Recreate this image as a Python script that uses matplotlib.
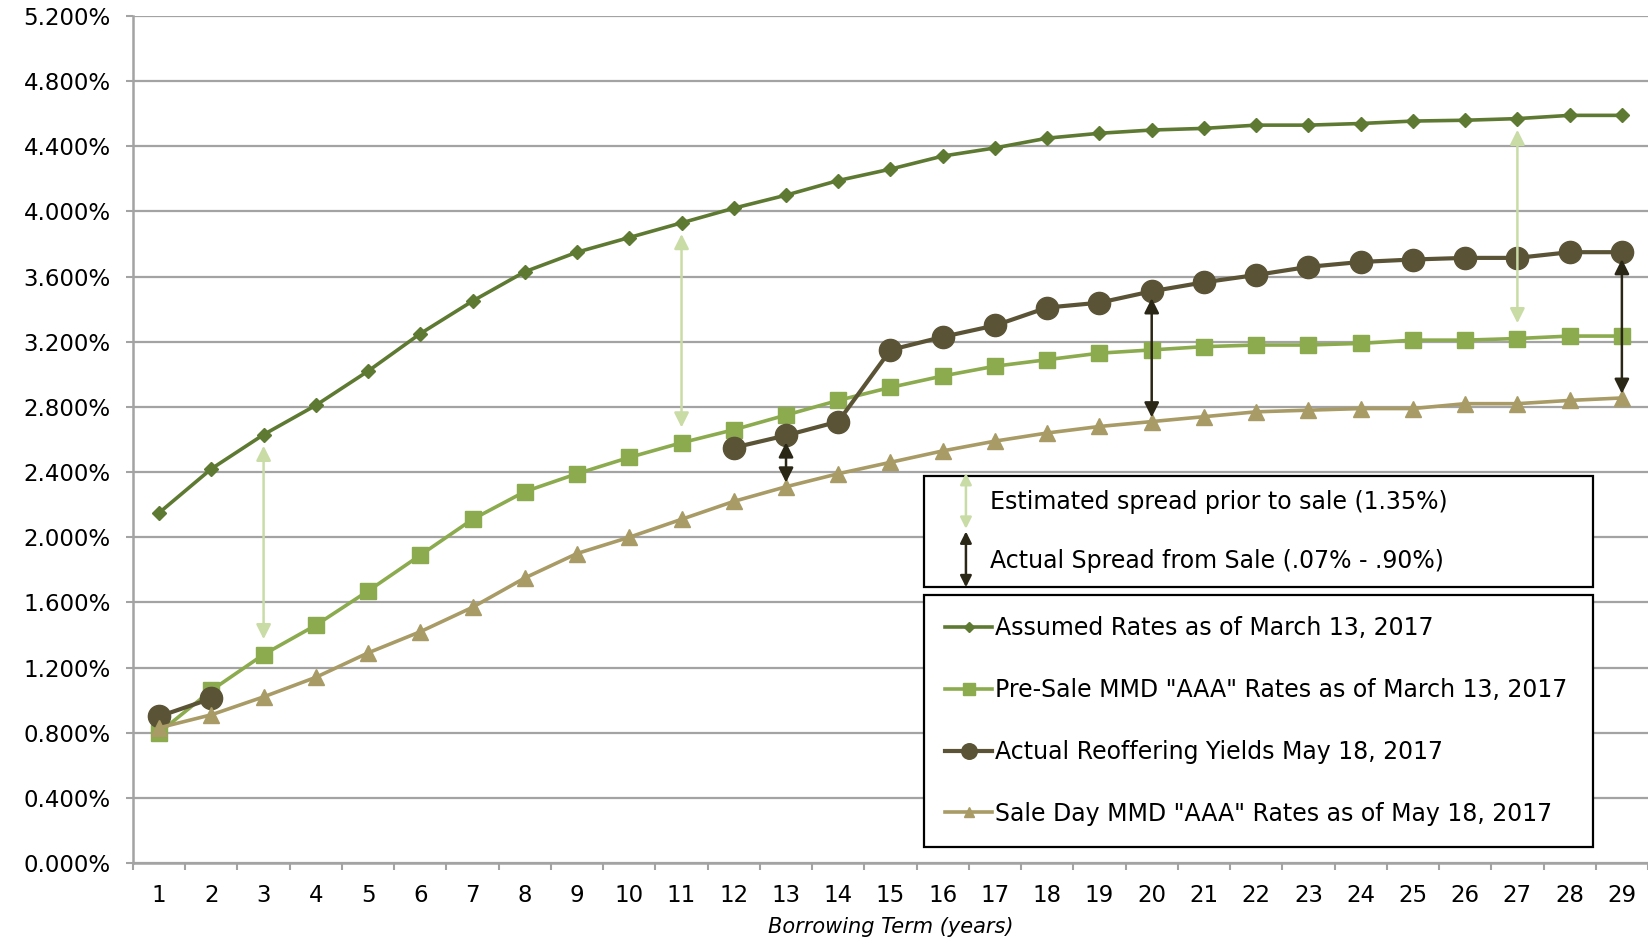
import numpy as np
import matplotlib
matplotlib.use("Agg")
import matplotlib.pyplot as plt
from matplotlib.lines import Line2D
from matplotlib.patches import FancyArrowPatch
from matplotlib.legend_handler import HandlerBase
from matplotlib.ticker import FuncFormatter, MultipleLocator

terms = np.arange(1, 30)

assumed = [2.15, 2.42, 2.63, 2.81, 3.02, 3.25, 3.45, 3.63, 3.75, 3.84,
           3.93, 4.02, 4.10, 4.19, 4.26, 4.34, 4.39, 4.45, 4.48, 4.50,
           4.51, 4.53, 4.53, 4.54, 4.555, 4.56, 4.57, 4.59, 4.59]
presale = [0.80, 1.06, 1.28, 1.46, 1.67, 1.89, 2.11, 2.28, 2.39, 2.49,
           2.58, 2.66, 2.75, 2.84, 2.92, 2.99, 3.05, 3.09, 3.13, 3.15,
           3.17, 3.18, 3.18, 3.19, 3.21, 3.21, 3.22, 3.235, 3.235]
actual = [0.90, 1.01, np.nan, np.nan, np.nan, np.nan, np.nan, np.nan, np.nan, np.nan,
          np.nan, 2.55, 2.625, 2.71, 3.15, 3.23, 3.30, 3.41, 3.44, 3.51,
          3.565, 3.61, 3.66, 3.69, 3.705, 3.715, 3.715, 3.75, 3.75]
saleday = [0.83, 0.91, 1.02, 1.14, 1.29, 1.42, 1.57, 1.75, 1.90, 2.00,
           2.11, 2.22, 2.31, 2.39, 2.46, 2.53, 2.59, 2.64, 2.68, 2.71,
           2.74, 2.77, 2.78, 2.79, 2.79, 2.82, 2.82, 2.84, 2.855]

labels = ['Assumed Rates as of March 13, 2017',
          'Pre-Sale MMD "AAA" Rates as of March 13, 2017',
          'Actual Reoffering Yields May 18, 2017',
          'Sale Day MMD "AAA" Rates as of May 18, 2017']
spread_labels = ['Estimated spread prior to sale (1.35%)',
                 'Actual Spread from Sale (.07% - .90%)']
est_terms = [3, 11, 27]
act_terms = [13, 20, 29]

c_assumed = '#5e7a32'
c_presale = '#8bab4e'
c_actual = '#5b5336'
c_sale = '#a89b66'
c_est = '#c9dca6'
c_act = '#2a2717'
c_grid = '#a3a3a3'

W, H = 1648, 941
fig = plt.figure(figsize=(W / 100, H / 100), dpi=100)
ax = fig.add_axes([133 / W, 1 - 863 / H, 1 - 133 / W, (863 - 16) / H])

l1, = ax.plot(terms, assumed, color=c_assumed, lw=2.6, marker='D', ms=7, zorder=3)
l2, = ax.plot(terms, presale, color=c_presale, lw=2.6, marker='s', ms=12, zorder=4)
l3, = ax.plot(terms, actual, color=c_actual, lw=3, marker='o', ms=16, zorder=5)
l4, = ax.plot(terms, saleday, color=c_sale, lw=2.6, marker='^', ms=11, zorder=6)


def spread_arrow(x, lo, hi, color, sa, sb):
    ax.annotate('', xy=(x, lo), xytext=(x, hi),
                arrowprops=dict(arrowstyle='<|-|>', color=color, lw=1.8,
                                mutation_scale=22, shrinkA=sa, shrinkB=sb),
                zorder=8)


for t in est_terms:
    spread_arrow(t, presale[t - 1], assumed[t - 1], c_est, 8, 11)
for t in act_terms:
    spread_arrow(t, saleday[t - 1], actual[t - 1], c_act, 5, 3)

ax.set_xlim(0.5, 29.5)
ax.set_ylim(0, 5.2)
ax.yaxis.set_major_locator(MultipleLocator(0.4))
ax.yaxis.set_major_formatter(FuncFormatter(lambda v, p: f'{v:.3f}%'))
ax.set_xticks(terms)
ax.set_xticks(np.arange(0.5, 30, 1), minor=True)
ax.tick_params(axis='x', which='major', length=0, pad=15, labelsize=16.5)
ax.tick_params(axis='x', which='minor', length=5, width=1.5, color=c_grid)
ax.tick_params(axis='y', length=5, width=1.5, color=c_grid, pad=11, labelsize=16.5)
ax.grid(axis='y', color=c_grid, lw=1.6, zorder=0)
ax.set_axisbelow(True)
for s in ['top', 'right']:
    ax.spines[s].set_visible(False)
for s in ['left', 'bottom']:
    ax.spines[s].set_color(c_grid)
    ax.spines[s].set_linewidth(1.8)
ax.set_xlabel('Borrowing Term (years)', fontsize=15, style='italic', labelpad=7)


class ArrowHandler(HandlerBase):
    def create_artists(self, legend, orig, xd, yd, w, h, fs, trans):
        x = -xd + 0.56 * w
        yc = -yd + h / 2
        a = FancyArrowPatch((x, yc - 1.3 * fs), (x, yc + 1.3 * fs),
                            arrowstyle='<|-|>', mutation_scale=17,
                            color=orig.get_color(), lw=1.8, transform=trans)
        return [a]


box_x0, box_x1 = 924 / W, 1593 / W

h_est = Line2D([], [], color=c_est)
h_act = Line2D([], [], color=c_act)
leg1 = fig.legend([h_est, h_act], spread_labels, loc='upper left',
                  bbox_to_anchor=(box_x0, 1 - 476 / H, box_x1 - box_x0, 0),
                  mode='expand', handler_map={Line2D: ArrowHandler()},
                  prop={'size': 17}, frameon=True,
                  fancybox=False, edgecolor='black', framealpha=1,
                  handlelength=2.1, handletextpad=0.1, labelspacing=1.46,
                  borderpad=0.6, borderaxespad=0)
leg1.get_frame().set_linewidth(1.6)
leg1.set_zorder(10)

leg2 = fig.legend([l1, l2, l3, l4], labels, loc='upper left',
                  bbox_to_anchor=(box_x0, 1 - 595 / H, box_x1 - box_x0, 0),
                  mode='expand', prop={'size': 17}, frameon=True,
                  fancybox=False, edgecolor='black', framealpha=1,
                  handlelength=2.0, handletextpad=0.1, labelspacing=1.6,
                  borderpad=0.9, borderaxespad=0, markerscale=0.7)
leg2.get_frame().set_linewidth(1.6)
leg2.set_zorder(10)

fig.savefig('out.png', dpi=100)
